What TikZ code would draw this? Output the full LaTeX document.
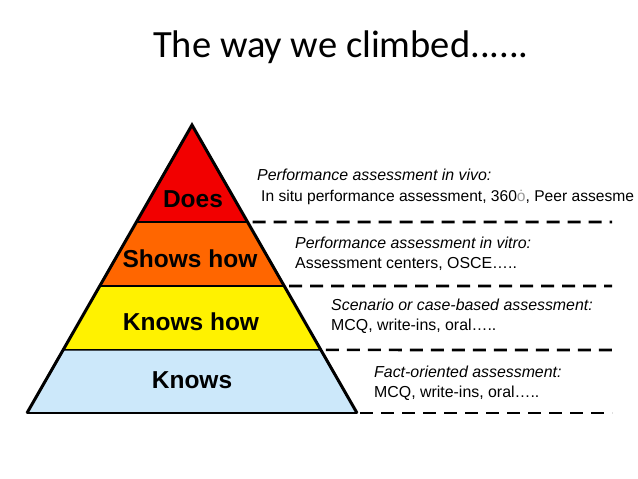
\documentclass[tikz,border=0pt]{standalone}
\usepackage{fontspec}
\newfontfamily\arialfont{Liberation Sans}
\newfontfamily\calibrifont{Carlito}
\usepackage{tikz}
\usetikzlibrary{positioning,calc}

\begin{document}
\begin{tikzpicture}[
  x=1pt, y=-1pt,
  band/.style={draw=black,line width=1.6pt,line join=round},
  level/.style={font=\arialfont\bfseries\fontsize{24.5}{28}\selectfont,inner sep=0pt},
  assess/.style={font=\arialfont\fontsize{15.9}{20.5}\selectfont,align=left,anchor=west,inner sep=0pt},
  divider/.style={line width=2.6pt,dash pattern=on 13pt off 8pt}
]
\useasboundingbox (0,0) rectangle (638,479);
\clip (0,0) rectangle (638,479);

% pyramid corners
\coordinate (apex) at (192,125);
\coordinate (bl) at (27,413);
\coordinate (br) at (357,413);
\coordinate (l1) at ($(apex)!0.3368!(bl)$);
\coordinate (r1) at ($(apex)!0.3368!(br)$);
\coordinate (l2) at ($(apex)!0.559!(bl)$);
\coordinate (r2) at ($(apex)!0.559!(br)$);
\coordinate (l3) at ($(apex)!0.781!(bl)$);
\coordinate (r3) at ($(apex)!0.781!(br)$);

% bands, top to bottom
\filldraw[band,fill=red!95!black] (apex) -- (r1) -- (l1) -- cycle;
\filldraw[band,fill={rgb,255:red,255;green,102;blue,0}] (l1) -- (r1) -- (r2) -- (l2) -- cycle;
\filldraw[band,fill=yellow] (l2) -- (r2) -- (r3) -- (l3) -- cycle;
\filldraw[band,fill={rgb,255:red,204;green,232;blue,250}] (l3) -- (r3) -- (br) -- (bl) -- cycle;
\draw[line width=3pt,line join=miter] (bl) -- (apex) -- (br);

\node[level] (does) at (193,199) {Does};
\node[level] (shows) at (190,259) {Shows how};
\node[level] (knowshow) at (191,322) {Knows how};
\node[level] (knows) at (192,380) {Knows};

% dashed separators
\coordinate (e1) at (612,222);
\coordinate (e2) at (612,286);
\coordinate (e3) at (612,350);
\coordinate (e4) at (612,413);
\draw[divider] ($(r1)+(5,0)$) -- (e1);
\draw[divider] ($(r2)+(5,0)$) -- (e2);
\draw[divider] ($(r3)+(5,0)$) -- (e3);
\draw[divider] ($(br)+(3,0)$) -- (e4);

% assessment texts
\node[assess] (vivo) at (257,187) {\textit{Performance assessment in vivo:}\\\hspace*{4pt}{\fontsize{15.6}{20.5}\selectfont In situ performance assessment, 360\textcolor{black!40}{ȯ}, Peer assesme}};
\node[assess] (vitro) at (295,254) {\textit{Performance assessment in vitro:}\\Assessment centers, OSCE…..};
\node[assess] (scenario) at (331,316) {\textit{Scenario or case-based assessment:}\\MCQ, write-ins, oral…..};
\node[assess] (fact) at (374,383) {\textit{Fact-oriented assessment:}\\MCQ, write-ins, oral…..};

% title
\node[font=\calibrifont\fontsize{38.5}{44}\selectfont,anchor=base west,inner sep=0pt] (title) at (153,57) {The way we climbed......};
\end{tikzpicture}
\end{document}
